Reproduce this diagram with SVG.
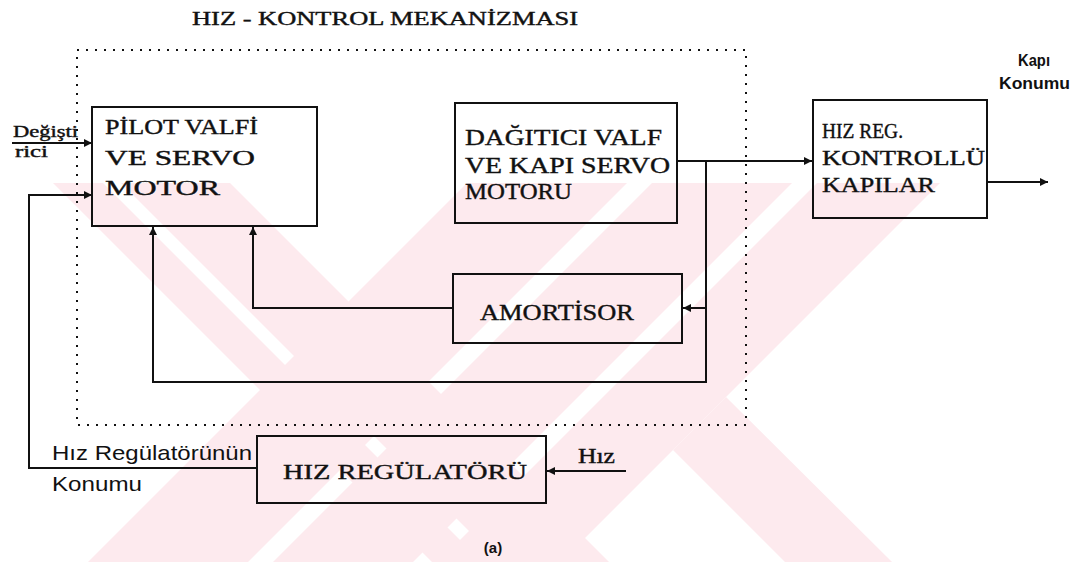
<svg xmlns="http://www.w3.org/2000/svg" width="1080" height="562" viewBox="0 0 1080 562">
<defs>
<marker id="arr" viewBox="0 0 10 10" refX="10" refY="5" markerWidth="9" markerHeight="8" markerUnits="userSpaceOnUse" orient="auto">
<path d="M0,0 L10,5 L0,10 z" fill="#111"/>
</marker>
</defs>
<style>
.wm{fill:#fdeaee;stroke:none}
.box{fill:none;stroke:#111;stroke-width:2}
.dot{fill:none;stroke:#111;stroke-width:2;stroke-dasharray:2 7}
.ln{fill:none;stroke:#111;stroke-width:2}
.t{font-family:"Liberation Serif","Times New Roman",serif;font-size:22px;fill:#111;stroke:#111;stroke-width:0.4}
.s{font-family:"Liberation Sans",Arial,sans-serif;font-size:21px;fill:#111}
.sb{font-family:"Liberation Sans",Arial,sans-serif;font-size:17px;font-weight:bold;fill:#111}
</style>
<rect width="1080" height="562" fill="#fff"/>
<g id="watermark">
<polygon class="wm" points="121,183 230,183 609,562 500,562"/>
<polygon class="wm" points="53,183 103,183 482,562 432,562"/>
<polygon class="wm" points="467,183 627,183 248,562 88,562"/>
<polygon class="wm" points="652,183 792,183 413,562 273,562"/>
<polygon class="wm" points="817,183 940,183 561,562 438,562"/>
<polygon class="wm" points="673,450 726,397 892,562 785,562"/>
</g>
<g id="title">
<text class="t" x="192" y="25" style="font-size:19px" textLength="386" lengthAdjust="spacingAndGlyphs">HIZ - KONTROL MEKANİZMASI</text>
</g>
<g id="mechanism">
<rect class="dot" x="77" y="50" width="669" height="375"/>
</g>
<g id="connectors">
<path class="ln" d="M12,143 H92" marker-end="url(#arr)"/>
<path class="ln" d="M257,468 H29 V195 H92" marker-end="url(#arr)"/>
<path class="ln" d="M677,161 H812" marker-end="url(#arr)"/>
<path class="ln" d="M987,182 H1048" marker-end="url(#arr)"/>
<path class="ln" d="M706,161 V382 H153 V227" marker-end="url(#arr)"/>
<path class="ln" d="M706,308 H683" marker-end="url(#arr)"/>
<path class="ln" d="M453,308 H253 V227" marker-end="url(#arr)"/>
<path class="ln" d="M626,471 H547" marker-end="url(#arr)"/>
</g>
<g id="pilot">
<rect class="box" x="92" y="107" width="225" height="119"/>
<text class="t" x="105" y="134" textLength="153" lengthAdjust="spacingAndGlyphs">PİLOT VALFİ</text>
<text class="t" x="105" y="165" textLength="150" lengthAdjust="spacingAndGlyphs">VE SERVO</text>
<text class="t" x="105" y="195" textLength="115" lengthAdjust="spacingAndGlyphs">MOTOR</text>
</g>
<g id="dagitici">
<rect class="box" x="455" y="103" width="222" height="120"/>
<text class="t" x="465" y="145" style="font-size:23px" textLength="197" lengthAdjust="spacingAndGlyphs">DAĞITICI VALF</text>
<text class="t" x="465" y="173" style="font-size:23px" textLength="205" lengthAdjust="spacingAndGlyphs">VE KAPI SERVO</text>
<text class="t" x="465" y="199" style="font-size:23px" textLength="107" lengthAdjust="spacingAndGlyphs">MOTORU</text>
</g>
<g id="kapilar">
<rect class="box" x="813" y="100" width="174" height="118"/>
<text class="t" x="822" y="138" textLength="81" lengthAdjust="spacingAndGlyphs">HIZ REG.</text>
<text class="t" x="822" y="165" textLength="163" lengthAdjust="spacingAndGlyphs">KONTROLLÜ</text>
<text class="t" x="822" y="192" textLength="113" lengthAdjust="spacingAndGlyphs">KAPILAR</text>
</g>
<g id="amortisor">
<rect class="box" x="453" y="274" width="229" height="69"/>
<text class="t" x="480" y="320" style="font-size:24px" textLength="154" lengthAdjust="spacingAndGlyphs">AMORTİSOR</text>
</g>
<g id="regulator">
<rect class="box" x="257" y="436" width="289" height="67"/>
<text class="t" x="283" y="479" textLength="244" lengthAdjust="spacingAndGlyphs">HIZ REGÜLATÖRÜ</text>
</g>
<g id="labels">
<text class="t" x="13" y="137" style="font-size:16px" textLength="65" lengthAdjust="spacingAndGlyphs">Değişti</text>
<text class="t" x="15" y="157" style="font-size:16px" textLength="33" lengthAdjust="spacingAndGlyphs">rici</text>
<text class="s" x="52" y="460" textLength="200" lengthAdjust="spacingAndGlyphs">Hız Regülatörünün</text>
<text class="s" x="52" y="491" textLength="90" lengthAdjust="spacingAndGlyphs">Konumu</text>
<text class="t" x="578" y="463" style="font-size:20px" textLength="37" lengthAdjust="spacingAndGlyphs">Hız</text>
<text class="sb" x="1018" y="66" textLength="32" lengthAdjust="spacingAndGlyphs">Kapı</text>
<text class="sb" x="999" y="89" textLength="71" lengthAdjust="spacingAndGlyphs">Konumu</text>
<text class="sb" x="493" y="553" text-anchor="middle" style="font-size:15px">(a)</text>
</g>
</svg>
